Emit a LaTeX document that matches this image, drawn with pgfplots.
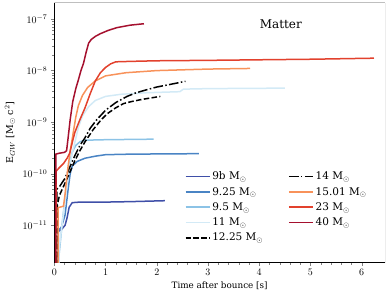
\documentclass[border=0pt]{standalone}
\usepackage{fontspec}
\setmainfont{DejaVu Serif}
\usepackage{pgfplots}
\pgfplotsset{compat=1.18}
\definecolor{c9b}{HTML}{3F4FA8}
\definecolor{c925}{HTML}{4A84C4}
\definecolor{c95}{HTML}{8CC3E6}
\definecolor{c11}{HTML}{D3EAF6}
\definecolor{c1501}{HTML}{F8925A}
\definecolor{c23}{HTML}{E2412D}
\definecolor{c40}{HTML}{A5102E}
\begin{document}
\begin{tikzpicture}
\begin{axis}[
  scale only axis, width=330.7pt, height=260pt,
  xmin=0, xmax=6.455, ymode=log, ymin=1.9e-12, ymax=2.09e-7,
  axis lines*=left,
  tick align=outside,
  major tick length=3.5pt, minor tick length=2pt,
  xtick={0,1,2,3,4,5,6}, minor x tick num=4,
  ytick={1e-11,1e-10,1e-9,1e-8,1e-7},
  tick label style={font=\fontsize{10}{12}\selectfont},
  xlabel={Time after bounce [s]},
  ylabel={E$_{GW}$ [M$_\odot$ c$^2$]},
  xlabel style={at={(axis description cs:0.5,-0.1)}, anchor=base, font=\fontsize{8.8}{10}\selectfont},
  ylabel style={at={(axis description cs:-0.134,0.5)}, anchor=center, font=\fontsize{9.5}{11}\selectfont},
  every axis plot/.append style={line width=1.5pt},
  legend columns=5, transpose legend,
  legend cell align=left,
  legend image code/.code={\draw[#1, line width=1.5pt] (0pt,0pt) -- (24pt,0pt);},
  legend style={draw=none, fill=none, at={(rel axis cs:0.385,0.365)}, anchor=north west,
    font=\fontsize{10.5}{12}\selectfont, row sep=2pt,
    /tikz/every even column/.append style={column sep=23pt}},
]
\addplot[c9b] coordinates {(0.07,1e-13)(0.075,7.6e-12)(0.14,8.3e-12)(0.21,1e-11)(0.25,1.41e-11)(0.29,2.24e-11)(0.35,2.75e-11)(0.5,2.82e-11)(1.0,2.82e-11)(1.5,2.88e-11)(2.16,3.0e-11)};
\addlegendentry{9b M$_\odot$}
\addplot[c925] coordinates {(0.075,1e-13)(0.08,7.9e-12)(0.14,9.3e-12)(0.21,1.58e-11)(0.24,2.8e-11)(0.27,5.0e-11)(0.31,1e-10)(0.35,1.41e-10)(0.45,1.74e-10)(0.6,2.0e-10)(0.8,2.19e-10)(1.0,2.34e-10)(1.5,2.4e-10)(2.82,2.45e-10)};
\addlegendentry{9.25 M$_\odot$}
\addplot[c95] coordinates {(0.08,1e-13)(0.09,2.5e-12)(0.15,1e-11)(0.2,2.8e-11)(0.25,7.1e-11)(0.3,1.58e-10)(0.35,2.63e-10)(0.42,3.55e-10)(0.5,4.17e-10)(0.6,4.47e-10)(1.0,4.57e-10)(1.94,4.68e-10)};
\addlegendentry{9.5 M$_\odot$}
\addplot[c11] coordinates {(0.08,1e-13)(0.09,3.2e-12)(0.15,1e-11)(0.2,2.5e-11)(0.25,6.3e-11)(0.3,1.41e-10)(0.35,2.5e-10)(0.4,4.0e-10)(0.47,7.9e-10)(0.55,1.32e-9)(0.67,2.0e-9)(0.8,2.63e-9)(1.0,3.16e-9)(1.3,3.47e-9)(1.8,3.72e-9)(2.45,3.9e-9)(2.52,4.37e-9)(3.0,4.47e-9)(4.5,4.57e-9)};
\addlegendentry{11 M$_\odot$}
\addplot[black, dash pattern=on 5.5pt off 2.4pt] coordinates {(0.05,1e-13)(0.06,2.5e-11)(0.1,3.8e-11)(0.2,6.3e-11)(0.3,1.05e-10)(0.4,1.78e-10)(0.5,2.8e-10)(0.6,4.17e-10)(0.76,7.2e-10)(0.9,1.07e-9)(1.03,1.45e-9)(1.2,1.9e-9)(1.35,2.29e-9)(1.5,2.5e-9)(1.7,2.75e-9)(2.07,3.16e-9)};
\addlegendentry{12.25 M$_\odot$}
\addplot[black, dash pattern=on 9.6pt off 2.4pt on 1.5pt off 2.4pt] coordinates {(0.04,1e-13)(0.05,5.0e-11)(0.1,5.6e-11)(0.2,7.9e-11)(0.3,1.32e-10)(0.4,2.24e-10)(0.5,3.55e-10)(0.6,5.0e-10)(0.7,7.6e-10)(0.83,1.12e-9)(1.0,1.7e-9)(1.2,2.4e-9)(1.42,3.16e-9)(1.6,3.72e-9)(1.81,4.27e-9)(2.0,4.8e-9)(2.2,5.25e-9)(2.4,5.75e-9)(2.56,6.2e-9)};
\addlegendentry{14 M$_\odot$}
\addplot[c1501] coordinates {(0.07,1e-13)(0.075,2.2e-11)(0.18,2.35e-11)(0.21,4.0e-11)(0.24,7.9e-11)(0.27,1.41e-10)(0.32,3.16e-10)(0.37,6.3e-10)(0.42,1.26e-9)(0.47,2.1e-9)(0.55,3.3e-9)(0.65,4.7e-9)(0.8,6.3e-9)(1.0,7.9e-9)(1.4,9.1e-9)(2.0,1.0e-8)(3.0,1.07e-8)(3.82,1.1e-8)};
\addlegendentry{15.01 M$_\odot$}
\addplot[c23] coordinates {(0.03,1e-13)(0.035,1.12e-10)(0.1,1.32e-10)(0.18,1.58e-10)(0.25,2.0e-10)(0.3,2.5e-10)(0.35,4.0e-10)(0.4,6.3e-10)(0.5,1.12e-9)(0.6,1.9e-9)(0.7,3.55e-9)(0.8,6.3e-9)(0.9,9.1e-9)(1.0,1.15e-8)(1.1,1.35e-8)(1.2,1.48e-8)(1.5,1.51e-8)(2.0,1.55e-8)(3.0,1.58e-8)(4.0,1.62e-8)(5.0,1.66e-8)(6.24,1.74e-8)};
\addlegendentry{23 M$_\odot$}
\addplot[c40] coordinates {(0.02,1e-13)(0.03,2.4e-10)(0.1,2.5e-10)(0.2,2.6e-10)(0.24,2.8e-10)(0.27,5.0e-10)(0.31,1.12e-9)(0.36,2.5e-9)(0.42,4.5e-9)(0.47,6.6e-9)(0.52,1.0e-8)(0.57,1.38e-8)(0.62,2.24e-8)(0.67,3.4e-8)(0.72,4.0e-8)(0.8,4.6e-8)(0.9,5.2e-8)(1.05,6.0e-8)(1.22,6.8e-8)(1.48,7.6e-8)(1.75,8.1e-8)};
\addlegendentry{40 M$_\odot$}
\draw[black!25, line width=0.8pt] (rel axis cs:0,1) -- (rel axis cs:1,1);
\draw[black!55, line width=0.8pt] (rel axis cs:1,0) -- (rel axis cs:1,1);
\node[font=\fontsize{12}{14}\selectfont] at (rel axis cs:0.685,0.915) {Matter};
\end{axis}
\path (current axis.south west) ++(-54.3pt,-32.5pt);
\path (current axis.north east) ++(5pt,2.5pt);
\end{tikzpicture}
\end{document}
